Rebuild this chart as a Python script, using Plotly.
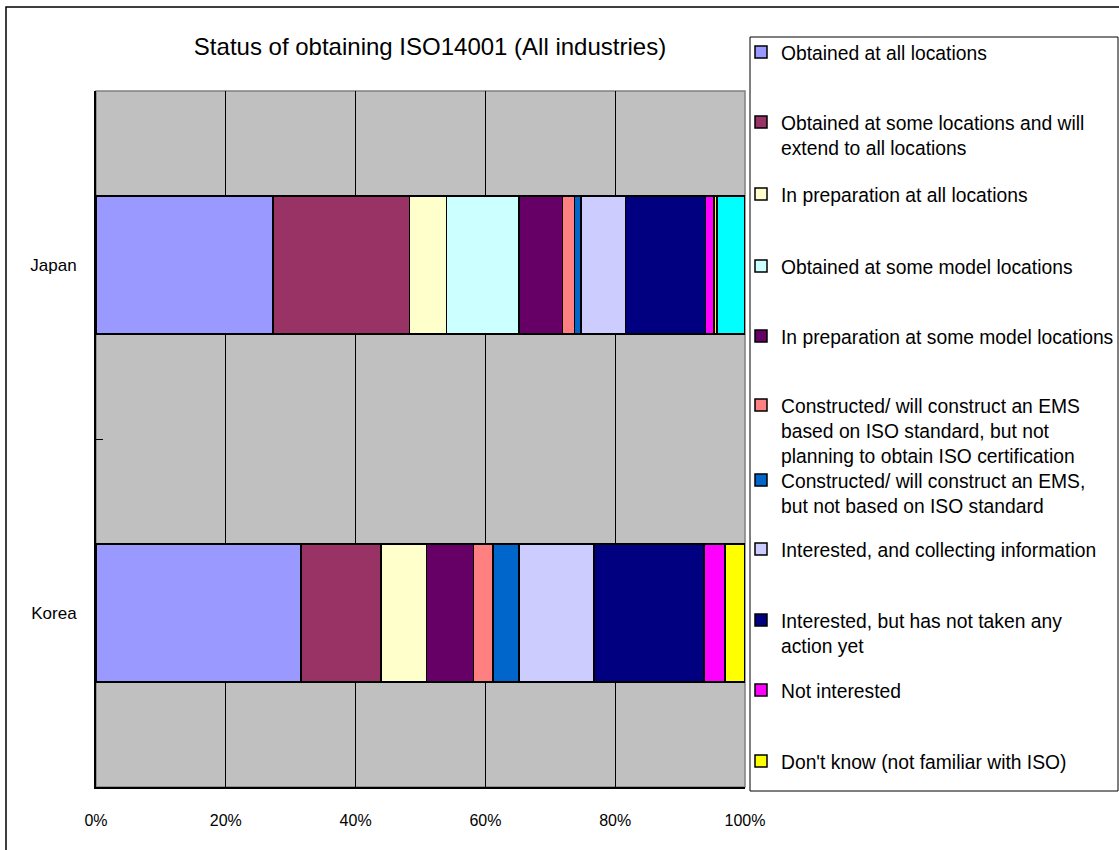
import plotly.graph_objects as go

# ---------------- data ----------------
countries = ["Korea", "Japan"]

categories = [
    "Obtained at all locations",
    "Obtained at some locations and will<br>extend to all locations",
    "In preparation at all locations",
    "Obtained at some model locations",
    "In preparation at some model locations",
    "Constructed/ will construct an EMS<br>based on ISO standard, but not<br>planning to obtain ISO certification",
    "Constructed/ will construct an EMS,<br>but not based on ISO standard",
    "Interested, and collecting information",
    "Interested, but has not taken any<br>action yet",
    "Not interested",
    "Don't know (not familiar with ISO)",
    "No answer",
]

japan = [27.3, 21.0, 5.7, 11.2, 6.7, 1.8, 1.0, 6.9, 12.3, 1.3, 0.5, 4.3]
korea = [31.6, 12.3, 7.0, None, 7.3, 3.0, 4.0, 11.5, 17.0, 3.2, 3.1, None]

colors = ["#9999FF", "#993366", "#FFFFCC", "#CCFFFF", "#660066", "#FF8080",
          "#0066CC", "#CCCCFF", "#000080", "#FF00FF", "#FFFF00", "#00FFFF"]

show_in_legend = [True] * 11 + [False]

x_ticks = [0, 20, 40, 60, 80, 100]
x_tick_labels = ["0%", "20%", "40%", "60%", "80%", "100%"]

title_text = "Status of obtaining ISO14001 (All industries)"

# ---------------- layout geometry (pixels) ----------------
W, H = 1119, 850
L, R, T, B = 96, 745, 91, 787
FONT = "Liberation Sans, Arial, sans-serif"


def px_x(p):
    return (p - L) / (R - L)


def px_y(p):
    return (B - p) / (B - T)


# first-line centres of legend entries (px)
legend_line_y = [50, 120, 192, 264, 334, 403, 478, 547, 618, 688, 759]
legend_left_px = 741

fig = go.Figure()

legend_layouts = {}
k = 0
for i, (name, col) in enumerate(zip(categories, colors)):
    kwargs = {}
    if show_in_legend[i]:
        lname = "legend" if k == 0 else f"legend{k + 1}"
        kwargs["legend"] = lname
        legend_layouts[lname] = dict(
            x=px_x(legend_left_px), xanchor="left",
            y=px_y(legend_line_y[k] - 17), yanchor="top",
            bgcolor="rgba(0,0,0,0)", borderwidth=0,
            font=dict(family=FONT, size=19.3, color="black"),
            valign="top", itemwidth=30,
        )
        k += 1
    fig.add_trace(go.Bar(
        y=countries,
        x=[korea[i], japan[i]],
        name=name,
        orientation="h",
        marker=dict(color=col, line=dict(color="black", width=1.5)),
        showlegend=show_in_legend[i],
        **kwargs,
    ))

shapes = [
    # plot area border (grey)
    dict(type="rect", xref="paper", yref="paper", x0=0, x1=1, y0=0, y1=1,
         line=dict(color="#808080", width=1.5), layer="below"),
    # legend box
    dict(type="rect", xref="paper", yref="paper",
         x0=px_x(750), x1=px_x(1118), y0=px_y(791), y1=px_y(37),
         line=dict(color="black", width=1), fillcolor="rgba(0,0,0,0)"),
    # outer chart frame
    dict(type="rect", xref="paper", yref="paper",
         x0=px_x(6), x1=px_x(1130), y0=px_y(870), y1=px_y(7),
         line=dict(color="black", width=1.5), fillcolor="rgba(0,0,0,0)"),
]

fig.update_layout(
    width=W, height=H,
    margin=dict(l=L, r=W - R, t=T, b=H - B, autoexpand=False),
    barmode="stack",
    bargap=0.603,
    paper_bgcolor="white",
    plot_bgcolor="#C0C0C0",
    font=dict(family=FONT, color="black"),
    title=dict(text=title_text, xref="paper", x=px_x(430), xanchor="center",
               yref="container", y=1 - 47 / H, yanchor="middle",
               font=dict(family=FONT, size=24, color="black")),
    xaxis=dict(range=[0, 100], tickvals=x_ticks, ticktext=x_tick_labels,
               showgrid=True, gridcolor="black", gridwidth=1,
               zeroline=False, showline=True, linecolor="black", linewidth=2,
               ticks="", ticklabelstandoff=18,
               tickfont=dict(family=FONT, size=16, color="black"),
               fixedrange=True),
    yaxis=dict(type="category", categoryorder="array", categoryarray=countries,
               showgrid=False, zeroline=False, showline=True,
               linecolor="black", linewidth=2,
               ticks="inside", ticklen=7, tickcolor="black", tickson="boundaries",
               ticklabelstandoff=14,
               tickfont=dict(family=FONT, size=17, color="black"),
               fixedrange=True),
    shapes=shapes,
    **legend_layouts,
)

fig.write_html(
    "out.html",
    config={"displayModeBar": False},
    post_script="document.body.style.margin='0px';document.body.style.overflow='hidden';",
)
